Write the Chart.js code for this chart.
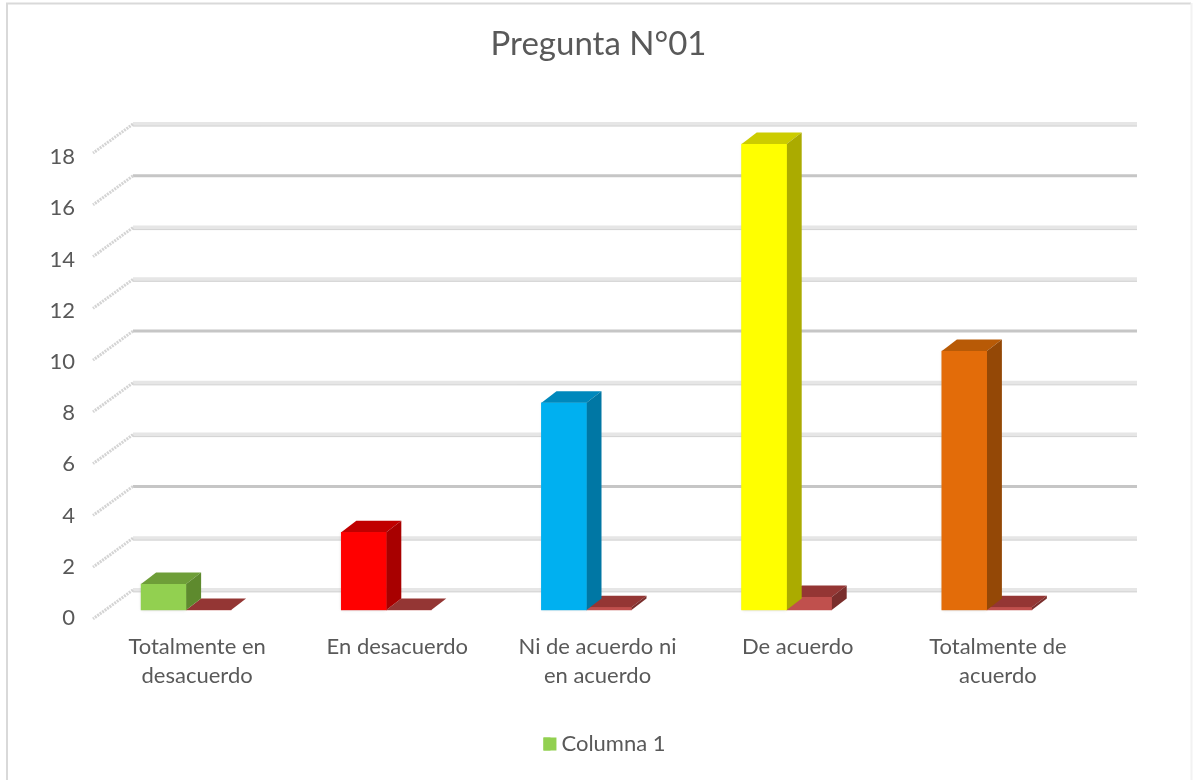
<!DOCTYPE html>
<html><head><meta charset="utf-8">
<style>html,body{margin:0;padding:0;background:#fff;overflow:hidden}#w{width:1193px;height:780px;position:relative}canvas{display:block;filter:blur(0.55px)}</style>
<script src="https://cdn.jsdelivr.net/npm/chart.js@4"></script>
</head><body><div id="w"><canvas id="c" width="1193" height="780"></canvas></div>
<script>
const categories = [["Totalmente en","desacuerdo"],"En desacuerdo",["Ni de acuerdo ni","en acuerdo"],"De acuerdo",["Totalmente de","acuerdo"]];
const seriesName = "Columna 1";
const series1 = [1,3,8,18,10];
const series2 = [0,0,0.1,0.5,0.1];
const yTicks = [0,2,4,6,8,10,12,14,16,18];
const frontColors = ["#92D050","#FF0000","#00B0F0","#FFFF00","#E36C09"];
const topColors = ["#6E9E38","#C00000","#0088BC","#CCCC00","#B85A06"];
const sideColors = ["#5E8A2E","#A80000","#0077A4","#ABAB00","#944806"];
const redFront="#C0504D", redTop="#943634", redSide="#7A2E2C";
const darkLines=[16,10,4];
const DX=15,DY=-11.5,WX=40,WY=-29,BACK=-20;
const FONT="Lato";

const deco={id:'deco',
 beforeDraw(ch){const c=ch.ctx;c.save();c.fillStyle='#fff';c.fillRect(0,0,1193,780);c.strokeStyle='#d9d9d9';c.lineWidth=2;c.beginPath();c.moveTo(7,780);c.lineTo(7,3.5);c.lineTo(1191,3.5);c.stroke();c.strokeStyle='#f2f2f2';c.beginPath();c.moveTo(1191.5,3);c.lineTo(1191.5,780);c.stroke();c.restore();
   if(!ch.$sh){ch.$sh=1;ch.legend.left+=6;ch.legend.right+=6;}},
 beforeDatasetsDraw(ch){const c=ch.ctx,s=ch.scales.y;c.save();
  yTicks.forEach(v=>{const y=s.getPixelForValue(v)+BACK;const dark=darkLines.includes(v);
    c.strokeStyle=dark?'#c6c6c6':'#e6e6e6';c.lineWidth=dark?3:4;c.beginPath();c.moveTo(133,y);c.lineTo(1137,y);c.stroke();
    if(!dark){c.strokeStyle='#d2d2d2';c.lineWidth=1;c.beginPath();c.moveTo(133,y+2);c.lineTo(1137,y+2);c.stroke();}
    c.strokeStyle='#d4d4d4';c.lineWidth=3;c.setLineDash([2,1]);c.beginPath();c.moveTo(133,y);c.lineTo(133-WX,y-WY);c.stroke();c.setLineDash([]);
  });c.restore();},
 afterDatasetsDraw(ch){const c=ch.ctx;c.save();
  const box=(b,fr,tp,sd)=>{const l=b.x-b.width/2,r=b.x+b.width/2,t=b.y,bt=b.base;
    c.fillStyle=tp;c.beginPath();c.moveTo(l,t);c.lineTo(l+DX,t+DY);c.lineTo(r+DX,t+DY);c.lineTo(r,t);c.closePath();c.fill();
    c.fillStyle=sd;c.beginPath();c.moveTo(r,t);c.lineTo(r+DX,t+DY);c.lineTo(r+DX,bt+DY);c.lineTo(r,bt);c.closePath();c.fill();
    c.fillStyle=fr;c.fillRect(l,t,b.width,bt-t);};
  ch.getDatasetMeta(1).data.forEach(b=>box(b,redFront,redTop,redSide));
  ch.getDatasetMeta(0).data.forEach((b,i)=>{c.shadowColor='rgba(190,190,190,.7)';c.shadowBlur=3;c.fillStyle=frontColors[i];c.fillRect(b.x-b.width/2,b.y,b.width,b.base-b.y);c.shadowBlur=0;box(b,frontColors[i],topColors[i],sideColors[i]);});
  c.restore();},
 afterDraw(ch){const h=ch.legend.legendHitBoxes[0],c=ch.ctx;c.save();c.fillStyle=frontColors[0];c.fillRect(h.left+6,h.top+(h.height-13)/2,13,13);c.restore();}
};
const cv=document.getElementById('c');
cv.getContext('2d').letterSpacing='1.2px';
new Chart(cv,{
 type:'bar',
 data:{labels:categories,datasets:[
  {label:seriesName,data:series1,yAxisID:'y',backgroundColor:frontColors,barThickness:45,borderWidth:0},
  {label:"Serie 2",data:series2,yAxisID:'y',backgroundColor:redFront,barThickness:45,borderWidth:0}]},
 options:{responsive:false,animation:false,devicePixelRatio:1,
  layout:{padding:{left:4,right:0,top:14,bottom:15}},
  plugins:{
   title:{display:true,text:"Pregunta N°01",color:'#595959',font:{family:FONT,size:33,weight:'normal'},padding:{top:11,bottom:59.4}},
   legend:{position:'bottom',align:'center',labels:{boxWidth:7,boxHeight:13,padding:40,color:'#595959',font:{family:FONT,size:22},generateLabels:()=>[{text:seriesName,fillStyle:frontColors[0],strokeStyle:frontColors[0],lineWidth:0,datasetIndex:0,fontColor:'#595959'}]},onClick:null},
   tooltip:{enabled:false}},
  scales:{
   x:{offset:true,grid:{display:false},border:{display:false},ticks:{color:'#595959',font:{family:FONT,size:22,lineHeight:1.32},padding:3,labelOffset:11,maxRotation:0,autoSkip:false}},
   y:{display:false,min:-0.426,max:18.776},
   yR:{position:'right',min:0,max:1,grid:{display:false,drawTicks:false},border:{display:false},ticks:{display:false},afterFit(a){a.width=106;}},
   yL:{position:'left',min:-0.117,max:19.296,grid:{display:false,drawTicks:false},border:{display:false},
     afterBuildTicks(a){a.ticks=yTicks.map(v=>({value:v}));},
     afterFit(a){a.width=82;},
     ticks:{color:'#595959',font:{family:FONT,size:22},padding:11}}
  }},
 plugins:[deco]
});
</script></body></html>
